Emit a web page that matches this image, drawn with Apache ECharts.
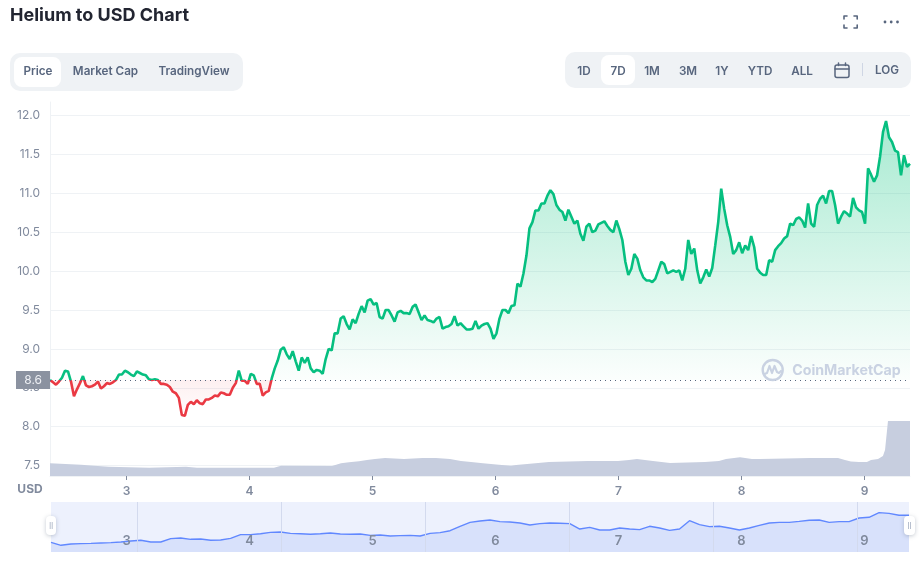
<!DOCTYPE html>
<html>
<head>
<meta charset="utf-8">
<style>html,body{margin:0;padding:0;background:#fff}#c{width:919px;height:562px}</style>
<script src="https://cdn.jsdelivr.net/npm/echarts@6/dist/echarts.min.js"></script>
</head>
<body>
<div id="c"></div>
<script>
const titleText = 'Helium to USD Chart';
const chartTabs = ['Price', 'Market Cap', 'TradingView'];
const rangeTabs = ['1D', '7D', '1M', '3M', '1Y', 'YTD', 'ALL'];
const dayTicks = [3, 4, 5, 6, 7, 8, 9];
const priceTicks = [7.5, 8, 8.5, 9, 9.5, 10, 10.5, 11, 11.5, 12];
const miniDividers = [3.088, 4.259, 5.429, 6.6, 7.771, 8.941];
const baseline = 8.6;
const dayStart = 2.378, dayEnd = 9.37;
const miniStart = 2.386, miniEnd = 9.362;

const prices = [
8.60,8.57,8.54,8.58,8.63,8.72,8.71,8.58,8.39,8.48,8.56,8.65,8.53,8.51,8.52,8.54,8.58,8.49,8.52,8.56,
8.55,8.57,8.60,8.67,8.67,8.72,8.70,8.67,8.65,8.71,8.69,8.67,8.66,8.61,8.60,8.61,8.60,8.55,8.55,8.54,
8.51,8.45,8.43,8.37,8.15,8.14,8.28,8.32,8.29,8.34,8.30,8.29,8.35,8.35,8.37,8.40,8.39,8.44,8.43,8.41,
8.41,8.50,8.56,8.72,8.59,8.59,8.55,8.68,8.66,8.55,8.55,8.40,8.44,8.46,8.62,8.75,8.85,
8.99,9.02,8.93,8.87,8.97,8.84,8.72,8.89,8.82,8.89,8.75,8.70,8.73,8.72,8.68,8.87,9.00,8.98,9.20,9.20,
9.39,9.42,9.32,9.25,9.38,9.33,9.45,9.55,9.47,9.62,9.64,9.57,9.59,9.41,9.39,9.50,9.50,9.43,9.35,9.47,
9.49,9.46,9.46,9.45,9.54,9.57,9.47,9.37,9.43,9.37,9.36,9.34,9.39,9.41,9.26,9.28,9.29,9.32,9.42,9.30,
9.33,9.29,9.25,9.25,9.26,9.36,9.26,9.30,9.32,9.33,9.26,9.13,9.20,9.39,
9.50,9.50,9.46,9.55,9.56,9.84,9.80,9.97,10.20,10.55,10.63,10.78,10.78,10.87,10.87,10.97,11.04,10.99,10.85,10.79,
10.76,10.65,10.79,10.70,10.61,10.65,10.48,10.39,10.57,10.61,10.50,10.52,10.60,10.62,10.64,10.58,10.53,10.50,10.65,10.54,
10.40,10.12,9.95,10.03,10.22,10.16,10.01,9.92,9.88,9.88,9.86,9.90,10.01,10.12,10.09,9.97,9.99,10.01,9.99,10.01,
9.88,10.03,10.40,10.22,10.29,10.01,9.84,9.92,10.02,
9.93,10.04,10.33,10.63,11.06,10.80,10.59,10.44,10.22,10.27,10.37,10.23,10.33,10.27,10.45,10.31,10.03,9.98,9.95,9.95,
10.14,10.12,10.27,10.32,10.36,10.42,10.45,10.61,10.59,10.67,10.69,10.65,10.56,10.87,10.61,10.57,10.85,10.93,10.97,10.87,
11.03,11.03,10.85,10.61,10.70,10.77,10.74,10.70,10.94,10.82,10.78,10.76,10.61,11.32,11.24,11.15,11.23,11.47,11.79,11.93,
11.72,11.66,11.55,11.53,11.23,11.49,11.34,11.38
];

const volumeDays = [2.378,2.63,2.736,2.858,3.183,3.484,3.573,4.199,4.256,4.671,4.744,4.809,4.89,4.955,5.02,5.102,5.256,5.407,5.516,5.63,
5.719,5.801,5.898,6.028,6.126,6.167,6.28,6.435,6.752,6.996,7.085,7.15,7.28,7.419,7.703,7.817,7.874,7.988,8.085,8.15,
8.557,8.785,8.841,8.89,8.955,9.02,9.053,9.11,9.15,9.167,9.191,9.37];
const volumes = [12.7,11.3,10.3,9.3,8.3,9.3,8.3,8.3,10.3,10,12.7,13.7,14.7,16,17,18,17,18,18,17,
15,14,12.7,11.3,10.3,11,12.3,14,15,15,16,17,15,13,14,15,17,18.7,17,17,
18,18,16,14.5,14,14,16,17,20,26,55,55];

const miniPrices = [
8.45,8.11,8.26,8.30,8.33,8.37,8.41,8.49,8.60,8.68,8.49,8.49,8.87,8.94,8.79,8.83,8.68,8.71,8.90,9.32,
9.32,9.43,9.58,9.62,9.47,9.43,9.36,9.43,9.51,9.40,
9.36,9.40,9.24,9.28,9.17,9.21,9.24,9.17,9.47,9.55,9.77,10.27,10.72,10.87,10.99,10.80,10.76,10.65,10.42,10.57,
10.65,10.61,10.57,9.96,10.15,9.85,9.85,10.08,9.96,
9.89,10.27,10.08,9.81,9.96,10.91,10.46,10.23,10.27,10.08,9.85,10.08,10.38,10.65,10.72,10.72,10.83,10.95,10.99,10.72,
10.80,10.80,11.21,11.29,11.82,11.74,11.52,11.52
];

const FONT = 'Inter, "Noto Sans", sans-serif';
const GREY = '#808a9d', SLATE = '#58667e', LINE = '#eff2f5';

const along = (arr, a, b) => arr.map((v, i) => [a + (b - a) * i / (arr.length - 1), v]);
const label = (text, x, y, extra) => ({
  type: 'text', x, y, silent: true, z: 50,
  style: Object.assign({ text, font: '600 11.7px ' + FONT, fill: SLATE, align: 'center', verticalAlign: 'middle' }, extra || {})
});
const box = (x, y, width, height, r, fill, extra) => ({
  type: 'rect', shape: { x, y, width, height, r }, silent: true, z: 40,
  style: Object.assign({ fill }, extra || {})
});
const poly = (points, w, col, smooth) => ({
  type: 'polyline', silent: true, z: 50,
  shape: { points, smooth: smooth || 0 },
  style: { fill: 'none', stroke: col || SLATE, lineWidth: w || 1.5, lineJoin: 'round', lineCap: 'round' }
});

const chartTabX = [38, 105.5, 194];
const rangeTabX = [584, 618, 652, 688, 722, 760, 802];

const graphics = [
  box(10, 53, 233, 38, 10, '#eff2f5'),
  box(14, 57, 47, 30, 8, '#ffffff'),
  ...chartTabs.map((t, i) => label(t, chartTabX[i], 71.5)),
  box(565, 52, 346, 36, 10, '#eff2f5'),
  box(601, 55, 34, 30, 8, '#ffffff'),
  ...rangeTabs.map((t, i) => label(t, rangeTabX[i], 71)),
  label('LOG', 887, 70),
  box(862, 63, 1, 13, 0, '#cfd6e4'),
  // calendar icon
  { type: 'rect', silent: true, z: 50, shape: { x: 835, y: 65, width: 14, height: 12.5, r: 2 }, style: { fill: 'none', stroke: SLATE, lineWidth: 1.5 } },
  poly([[835, 69], [849, 69]]),
  poly([[838.5, 63], [838.5, 65.5]]),
  poly([[845.5, 63], [845.5, 65.5]]),
  // fullscreen corners
  poly([[844, 19], [844, 16], [847, 16]], 1.6),
  poly([[854, 16], [857.2, 16], [857.2, 19]], 1.6),
  poly([[857.2, 25], [857.2, 28], [854, 28]], 1.6),
  poly([[847, 28], [844, 28], [844, 25]], 1.6),
  // more dots
  ...[885, 891.2, 897.5].map(cx => ({ type: 'circle', silent: true, z: 50, shape: { cx, cy: 22, r: 1.4 }, style: { fill: SLATE } })),
  // USD label
  label('USD', 30, 489, { fill: GREY, font: '700 12px ' + FONT }),
  // watermark
  { type: 'circle', silent: true, z: 30, shape: { cx: 772.7, cy: 370, r: 10 }, style: { fill: 'none', stroke: '#c9d2e2', lineWidth: 2.4 } },
  poly([[764.5, 374], [767, 373], [769.5, 366], [772, 373], [774.5, 366], [777, 372], [779, 373], [781, 371]], 2.2, '#c9d2e2'),
  label('CoinMarketCap', 846.5, 371, { font: '700 14.2px ' + FONT, fill: '#c9d2e2' }),
  // range handles
  box(46, 516, 10, 19, 4, '#ffffff', { shadowBlur: 4, shadowColor: 'rgba(88,102,126,.35)', shadowOffsetY: 1 }),
  box(49.7, 522, 1, 7, 0, '#b8c0cf'),
  box(51.7, 522, 1, 7, 0, '#b8c0cf'),
  box(904, 516, 11, 19, 4, '#ffffff', { shadowBlur: 4, shadowColor: 'rgba(88,102,126,.35)', shadowOffsetY: 1 }),
  box(908, 522, 1, 7, 0, '#b8c0cf'),
  box(910, 522, 1, 7, 0, '#b8c0cf')
];

const splitAt = 0.8689;
const lineColor = new echarts.graphic.LinearGradient(0, 115, 0, 420, [
  { offset: 0, color: '#06bf80' },
  { offset: splitAt, color: '#06bf80' },
  { offset: splitAt, color: '#ea3943' },
  { offset: 1, color: '#ea3943' }
], true);
const fillColor = new echarts.graphic.LinearGradient(0, 115, 0, 420, [
  { offset: 0, color: 'rgba(22,199,132,0.38)' },
  { offset: splitAt, color: 'rgba(22,199,132,0.015)' },
  { offset: splitAt, color: 'rgba(234,57,67,0.08)' },
  { offset: 1, color: 'rgba(234,57,67,0)' }
], true);

const chart = echarts.init(document.getElementById('c'), null, { renderer: 'canvas' });
chart.setOption({
  animation: false,
  backgroundColor: '#fff',
  title: { text: titleText, left: 10, top: 7, padding: 0, textStyle: { fontFamily: FONT, fontSize: 18, fontWeight: 700, color: '#222531' } },
  grid: [
    { left: 50, top: 102, width: 860, height: 374 },
    { left: 51, top: 502, width: 858, height: 50, show: true, borderWidth: 0, backgroundColor: '#edf1fd' }
  ],
  xAxis: [
    {
      type: 'value', gridIndex: 0, min: dayStart, max: dayEnd,
      axisLine: { show: true, lineStyle: { color: LINE } },
      axisTick: { show: true, length: 4, lineStyle: { color: GREY }, customValues: dayTicks },
      splitLine: { show: false },
      axisLabel: { customValues: dayTicks, margin: 9, color: GREY, fontFamily: FONT, fontSize: 12, fontWeight: 600, formatter: v => String(v) }
    },
    {
      type: 'value', gridIndex: 1, min: miniStart, max: miniEnd, z: 5,
      axisLine: { show: false },
      axisTick: { show: false, customValues: miniDividers },
      splitLine: { show: true, lineStyle: { color: '#d3daee' } },
      axisLabel: { inside: true, customValues: dayTicks, margin: 4, color: GREY, fontFamily: FONT, fontSize: 13, fontWeight: 600, formatter: v => String(v) }
    }
  ],
  yAxis: [
    {
      type: 'value', gridIndex: 0, min: 7.366, max: 12.174,
      axisLine: { show: true, lineStyle: { color: LINE } },
      axisTick: { show: false, customValues: priceTicks },
      splitLine: { show: true, lineStyle: { color: LINE } },
      axisLabel: { customValues: priceTicks, margin: 10, color: GREY, fontFamily: FONT, fontSize: 12, formatter: v => v.toFixed(1) }
    },
    { type: 'value', gridIndex: 0, min: 0, max: 374, show: false, splitLine: { show: false } },
    { type: 'value', gridIndex: 1, min: 7.35, max: 13.03, show: false, splitLine: { show: false } }
  ],
  series: [
    {
      type: 'line', name: 'Price', xAxisIndex: 0, yAxisIndex: 0, z: 4,
      data: along(prices, dayStart, dayEnd),
      showSymbol: false, lineStyle: { width: 2.6, color: lineColor },
      areaStyle: { origin: baseline, color: fillColor, opacity: 1 },
      markLine: {
        silent: true, symbol: 'none', animation: false,
        lineStyle: { color: SLATE, type: [1, 4], width: 1 },
        label: {
          position: 'start', distance: 0, formatter: baseline.toFixed(1), width: 26, height: 18, lineHeight: 18, padding: [0, 8, 0, 0], align: 'right',
          backgroundColor: '#8b92a0', color: '#eef0f4', fontFamily: FONT, fontSize: 12
        },
        data: [{ yAxis: baseline }]
      }
    },
    {
      type: 'line', name: 'Volume', xAxisIndex: 0, yAxisIndex: 1, z: 1,
      data: volumeDays.map((d, i) => [d, volumes[i]]),
      showSymbol: false, lineStyle: { width: 0 },
      itemStyle: { color: '#c7cedf' },
      areaStyle: { color: '#c7cedf', opacity: 1 }
    },
    {
      type: 'line', name: 'Overview', xAxisIndex: 1, yAxisIndex: 2, z: 2,
      data: along(miniPrices, miniStart, miniEnd),
      showSymbol: false, lineStyle: { width: 1.4, color: '#6188ff' },
      itemStyle: { color: '#6188ff' },
      areaStyle: { color: '#d8e1fb', opacity: 1 }
    }
  ],
  graphic: graphics
});
</script>
</body>
</html>
